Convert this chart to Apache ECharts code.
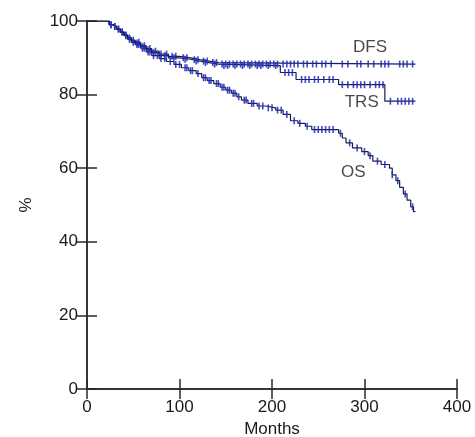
<!DOCTYPE html>
<html><head><meta charset="utf-8">
<script src="https://cdn.jsdelivr.net/npm/echarts@6/dist/echarts.min.js"></script>
<style>html,body{margin:0;padding:0;background:#fff}#c{width:475px;height:437px}</style>
</head><body><div id="c"></div>
<script>
// Kaplan-Meier step points [month, %]
const dfsSteps = [[0,100],[24,99],[28,98.5],[32,97.8],[36,97],[40,96.2],[44,95.5],[48,94.8],[52,94.2],[58,93.3],[64,92.5],[70,91.8],[78,91.0],[88,90.4],[100,90.0],[112,89.5],[122,89.1],[132,88.7],[142,88.3],[355,88.3]];
const trsSteps = [[0,100],[24,99],[28,98.5],[32,97.8],[36,97],[40,96.2],[44,95.4],[48,94.6],[52,94.0],[58,93.0],[64,92.2],[70,91.4],[78,90.6],[88,90.0],[100,89.6],[112,89.1],[122,88.7],[132,88.3],[142,87.9],[209,86.0],[226,84.1],[272,82.7],[322,78.2],[355,78.2]];
const osSteps = [[0,100],[24,99],[28,98.5],[32,97.8],[36,97],[40,96],[44,95],[48,94.2],[52,93.6],[58,92.6],[64,91.6],[70,90.6],[78,89.8],[86,89],[94,88.2],[102,87.3],[110,86.5],[118,85.7],[124,84.6],[130,83.8],[137,83],[144,82],[150,81.2],[156,80.4],[162,79.4],[167,78.5],[174,77.6],[184,76.9],[193,76.4],[204,75.8],[212,74.6],[220,72.9],[228,72.2],[236,71.4],[243,70.5],[272,69.5],[276,68.2],[280,66.9],[287,65.5],[297,64.5],[304,63.4],[309,61.9],[318,61.0],[327,60.0],[330,58.2],[334,56.6],[338,54.8],[342,53.0],[346,51.3],[350,49.5],[353,48.2],[355,48.2]];
// censored observation times (months)
const dfsCensor = [26,34,42,50,56,62,68,74,80,86,92,96,104,108,116,120,126,130,136,140,146,150,154,158,162,166,170,174,178,182,186,190,194,198,202,206,212,216,220,224,228,234,238,244,248,254,258,264,276,282,292,296,304,310,318,322,326,338,342,346,352];
const trsCensor = [30,38,46,54,60,66,72,84,94,106,118,128,138,148,152,160,168,176,184,188,196,204,214,218,222,232,236,240,246,250,256,262,266,276,282,288,292,296,300,306,312,316,320,328,336,340,344,348,352];
const osCensor = [26,30,34,38,42,46,50,54,56,60,62,66,68,72,76,80,84,90,96,100,106,108,112,114,120,126,128,132,134,140,142,146,148,152,154,158,160,164,170,172,178,180,186,190,196,200,206,210,216,224,230,238,246,250,254,258,262,266,274,284,292,300,306,314,322,330,336,344,352];
const xTicks = [0,100,200,300,400];
const yTicks = [0,20,40,60,80,100];
const curveNames = ['DFS','TRS','OS'];

function stepValue(steps, t){ let v = steps[0][1]; for (const p of steps){ if (p[0] <= t) v = p[1]; else break; } return v; }
const lineColor = '#1c1c48', markColor = '#1f2bc0', axisColor = '#2a2a2a';
const font = 'Liberation Sans, Arial, Helvetica, sans-serif';
const chart = echarts.init(document.getElementById('c'), null, {renderer:'canvas'});
const allSteps = [dfsSteps, trsSteps, osSteps], allCens = [dfsCensor, trsCensor, osCensor];
const series = [];
allSteps.forEach((s,i)=>{
  series.push({type:'line', name:curveNames[i], data:s, step:'end', symbol:'none', lineStyle:{color:lineColor,width:1.2}, z:2, silent:true});
  series.push({type:'scatter', data:allCens[i].map(t=>[t, stepValue(s,t)]), symbol:'rect', symbolSize:[1.6,7], itemStyle:{color:markColor, opacity:0.85}, z:3, silent:true});
});
series.push({type:'scatter', data:[[306,92.9,'DFS'],[297,78.0,'TRS'],[288,59.0,'OS']], symbolSize:0,
  label:{show:true, position:'inside', formatter:p=>p.data[2], color:'#1a1a1a', fontSize:17, fontFamily:font}, z:5, silent:true});
const axisCommon = {axisLine:{show:true,lineStyle:{color:axisColor,width:1.5}}, axisTick:{show:true,inside:true,length:10,lineStyle:{color:axisColor,width:1.5}}, splitLine:{show:false}};
chart.setOption({
  animation:false,
  grid:{left:87, right:18, top:21, bottom:48, outerBoundsMode:'none', containLabel:false},
  xAxis:[
    Object.assign({type:'value', min:0, max:400, interval:100, position:'bottom', name:'Months', nameLocation:'middle', nameGap:31,
      nameTextStyle:{fontSize:17,color:'#1a1a1a',fontFamily:font},
      axisLabel:{fontSize:17,color:'#1a1a1a',margin:10,fontFamily:font, formatter:v=>xTicks.includes(v)?String(v):''}}, axisCommon),
    Object.assign({type:'value', min:0, max:400, interval:100, position:'top', axisLabel:{show:false}}, axisCommon)
  ],
  yAxis:[
    Object.assign({type:'value', min:0, max:100, interval:20, position:'left', name:'%', nameLocation:'middle', nameGap:52, nameRotate:90,
      nameTextStyle:{fontSize:17,color:'#1a1a1a',fontFamily:font},
      axisLabel:{fontSize:17,color:'#1a1a1a',margin:9,fontFamily:font, formatter:v=>yTicks.includes(v)?String(v):''}}, axisCommon),
    Object.assign({type:'value', min:0, max:100, interval:20, position:'right', axisLabel:{show:false}}, axisCommon)
  ],
  series: series
});
</script></body></html>
